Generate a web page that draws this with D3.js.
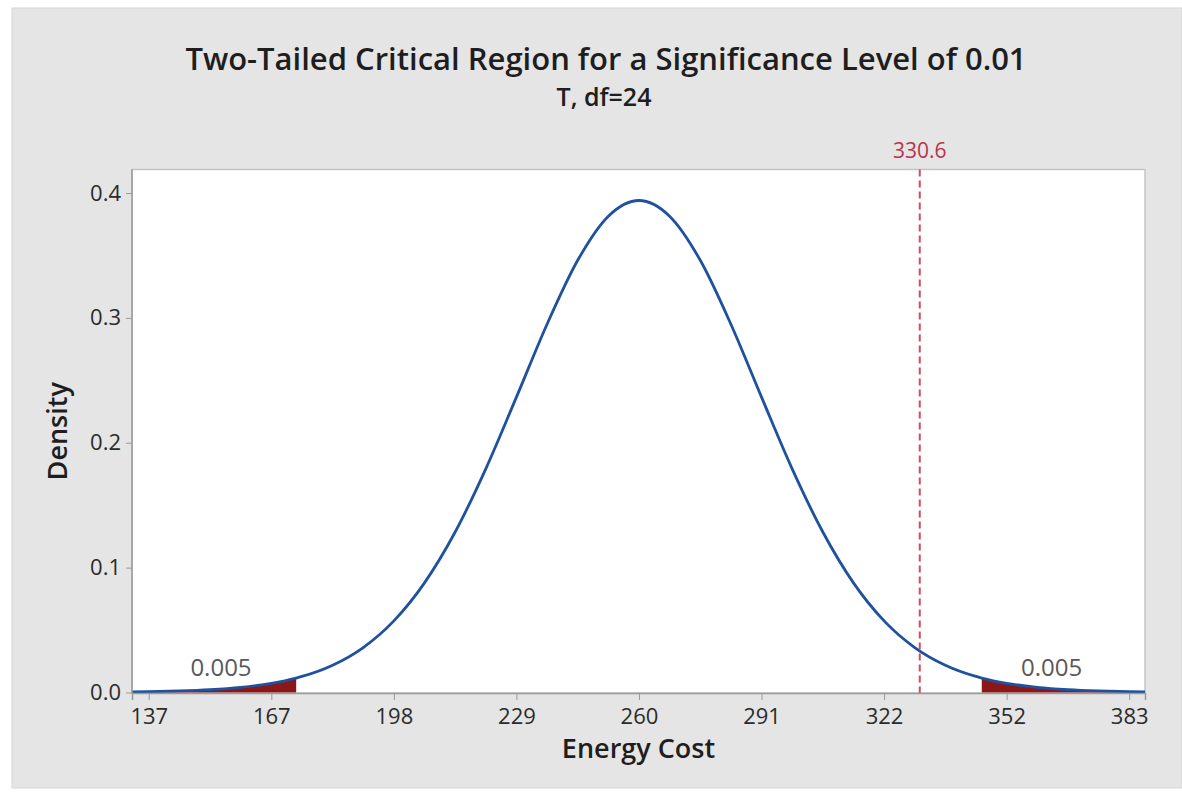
<!DOCTYPE html>
<html>
<head>
<meta charset="utf-8">
<script src="https://cdn.jsdelivr.net/npm/d3@7"></script>
<style>
  html, body { margin: 0; padding: 0; background: #ffffff; }
  svg { display: block; font-family: "Open Sans", "Noto Sans", sans-serif; }
</style>
</head>
<body>
<svg id="chart" width="1182" height="797"></svg>
<script>
// Energy cost values (x) and T(df=24) density heights along the curve
const costValues = [
  132.3, 136.52, 144.23, 151.95, 159.66, 167.37, 173.63, 175.08, 182.80, 190.51,
  198.22, 205.93, 213.65, 221.36, 229.07, 236.78, 244.50, 252.21, 259.92,
  267.63, 275.35, 283.06, 290.77, 298.48, 306.20, 313.91, 321.62, 329.33,
  337.05, 344.76, 346.21, 352.47, 360.18, 367.90, 375.61, 383.32, 387.3
];
const densityValues = [
  0.00050, 0.00066, 0.00124, 0.00227, 0.00413, 0.00736, 0.01158, 0.01284, 0.02183, 0.03601,
  0.05735, 0.08780, 0.12850, 0.17910, 0.23650, 0.29490, 0.34610, 0.38140, 0.39400,
  0.38140, 0.34610, 0.29490, 0.23650, 0.17910, 0.12850, 0.08780, 0.05735, 0.03601,
  0.02183, 0.01284, 0.01158, 0.00736, 0.00413, 0.00227, 0.00124, 0.00066, 0.00050
];

// Critical values bounding the two rejection tails
const criticalLow = 173.63;
const criticalHigh = 346.21;
const tailAreaLabels = ["0.005", "0.005"];
const tailLabelPositions = [154.7, 363.8];

// Reference line
const referenceValue = 330.6;

// Axis ticks: centre and spacing of the x ticks, and their printed labels
const xTickCenter = 259.92;
const xTickStep = 30.85;
const xTickLabels = ["137", "167", "198", "229", "260", "291", "322", "352", "383"];
const yTickValues = [0.0, 0.1, 0.2, 0.3, 0.4];

const titleText = "Two-Tailed Critical Region for a Significance Level of 0.01";
const subtitleText = "T, df=24";
const xTitle = "Energy Cost";
const yTitle = "Density";

const points = costValues.map((c, i) => ({ x: c, y: densityValues[i] }));

const svg = d3.select("#chart");

// Panel geometry
const plot = { left: 132, right: 1145, top: 169.5, bottom: 693 };

// Outer grey panel
svg.append("rect")
  .attr("x", 12).attr("y", 8)
  .attr("width", 1170).attr("height", 780)
  .attr("fill", "#e5e5e5")
  .attr("stroke", "#d6d6d6");

// Plot area
svg.append("rect")
  .attr("x", plot.left).attr("y", plot.top)
  .attr("width", plot.right - plot.left).attr("height", plot.bottom - plot.top)
  .attr("fill", "#ffffff")
  .attr("stroke", "#c4c4c4")
  .attr("stroke-width", 1.5);

const x = d3.scaleLinear().domain([132.3, 387.3]).range([plot.left, plot.right]);
const y = d3.scaleLinear().domain([0, 0.4]).range([692.5, 193]);

// Shaded tails
const area = d3.area()
  .x(d => x(d.x))
  .y0(y(0))
  .y1(d => y(d.y))
  .curve(d3.curveMonotoneX);

svg.append("path")
  .datum(points.filter(d => d.x <= criticalLow))
  .attr("d", area)
  .attr("fill", "#8c1717");
svg.append("path")
  .datum(points.filter(d => d.x >= criticalHigh))
  .attr("d", area)
  .attr("fill", "#8c1717");

// Density curve
const line = d3.line()
  .x(d => x(d.x))
  .y(d => y(d.y))
  .curve(d3.curveMonotoneX);

svg.append("path")
  .datum(points)
  .attr("d", line)
  .attr("fill", "none")
  .attr("stroke", "#1f519f")
  .attr("stroke-width", 2.8)
  .attr("stroke-linejoin", "round");

// Reference line
svg.append("line")
  .attr("x1", x(referenceValue)).attr("x2", x(referenceValue))
  .attr("y1", plot.top).attr("y2", plot.bottom)
  .attr("stroke", "#d24b5e")
  .attr("stroke-width", 2)
  .attr("stroke-dasharray", "7,4");

svg.append("text")
  .attr("x", x(referenceValue)).attr("y", 158)
  .attr("text-anchor", "middle")
  .attr("font-size", 21)
  .attr("fill", "#b8344a")
  .text(referenceValue.toFixed(1));

// Tail probability labels
svg.selectAll(".tail-label")
  .data(tailAreaLabels)
  .join("text")
  .attr("class", "tail-label")
  .attr("x", (d, i) => x(tailLabelPositions[i]))
  .attr("y", 676)
  .attr("text-anchor", "middle")
  .attr("font-size", 24)
  .attr("fill", "#595959")
  .text(d => d);

// X axis
const xTickValues = d3.range(-4, 5).map(k => xTickCenter + k * xTickStep);
const xAxis = d3.axisBottom(x)
  .tickValues(xTickValues)
  .tickFormat((d, i) => xTickLabels[i])
  .tickSizeOuter(0)
  .tickSize(7)
  .tickPadding(8);

const gx = svg.append("g")
  .attr("transform", `translate(0,${plot.bottom})`)
  .call(xAxis);
gx.select(".domain").attr("stroke", "#9a9a9a").attr("stroke-width", 1.5);
gx.selectAll(".tick line").attr("stroke", "#9a9a9a");
gx.selectAll(".tick text")
  .attr("font-size", 22)
  .attr("fill", "#2b2b2b")
  .attr("font-family", "\"Open Sans\", sans-serif");

// Y axis
const yAxis = d3.axisLeft(y)
  .tickValues(yTickValues)
  .tickFormat(d3.format(".1f"))
  .tickSizeOuter(0)
  .tickSize(6)
  .tickPadding(5);

const gy = svg.append("g")
  .attr("transform", `translate(${plot.left},0)`)
  .call(yAxis);
gy.select(".domain").attr("stroke", "#9a9a9a").attr("stroke-width", 1.5)
  .attr("d", `M0,${plot.top}V${plot.bottom}`);
gy.selectAll(".tick line").attr("stroke", "#9a9a9a");
gy.selectAll(".tick text")
  .attr("font-size", 22)
  .attr("fill", "#2b2b2b")
  .attr("font-family", "\"Open Sans\", sans-serif");

// Titles
svg.append("text")
  .attr("x", 606).attr("y", 70)
  .attr("text-anchor", "middle")
  .attr("font-size", 31)
  .attr("font-weight", 600)
  .attr("fill", "#1e1e1e")
  .text(titleText);

svg.append("text")
  .attr("x", 604).attr("y", 106)
  .attr("text-anchor", "middle")
  .attr("font-size", 25)
  .attr("font-weight", 600)
  .attr("fill", "#1e1e1e")
  .text(subtitleText);

svg.append("text")
  .attr("x", (plot.left + plot.right) / 2).attr("y", 758)
  .attr("text-anchor", "middle")
  .attr("font-size", 27)
  .attr("font-weight", 600)
  .attr("fill", "#1e1e1e")
  .text(xTitle);

svg.append("text")
  .attr("transform", `translate(67,${(plot.top + plot.bottom) / 2}) rotate(-90)`)
  .attr("text-anchor", "middle")
  .attr("font-size", 27)
  .attr("font-weight", 600)
  .attr("fill", "#1e1e1e")
  .text(yTitle);
</script>
</body>
</html>
